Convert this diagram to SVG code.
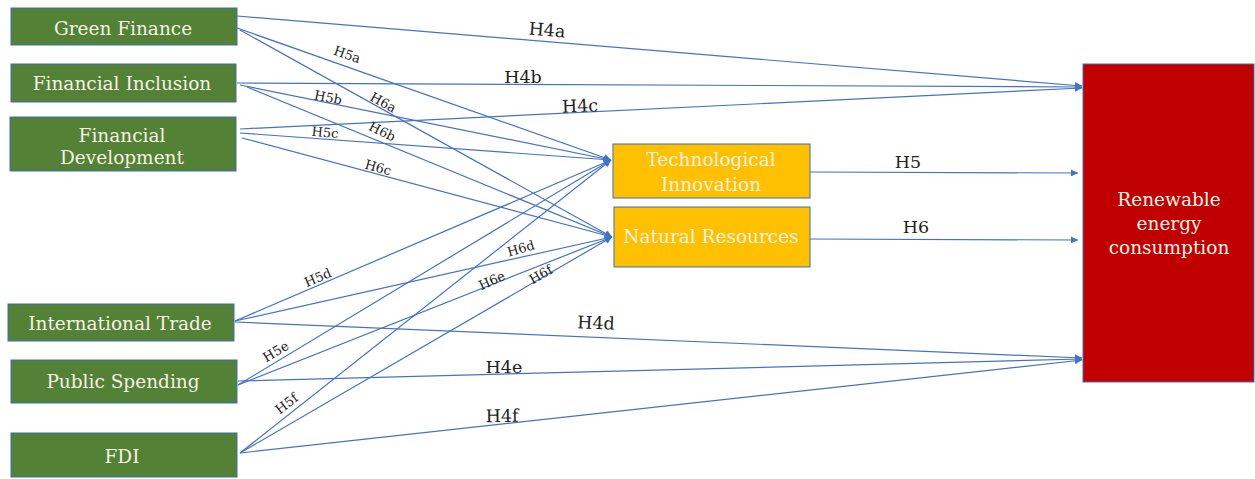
<svg xmlns="http://www.w3.org/2000/svg" width="1255" height="479" viewBox="0 0 1255 479">
<style>
.g{fill:#538135;stroke:#3f6fb0;stroke-width:1}
.o{fill:#FFC000;stroke:#3f6fb0;stroke-width:1}
.r{fill:#C00000;stroke:#3f6fb0;stroke-width:1}
.t{font-family:"DejaVu Serif","Liberation Serif",serif;font-size:18.5px;fill:#f6f1e4;text-anchor:middle}
.c{fill:none;stroke:#4472c4;stroke-width:1.2;marker-end:url(#ah)}
.l{font-family:"DejaVu Serif","Liberation Serif",serif;font-size:13px;fill:#222;text-anchor:middle}
.L{font-family:"DejaVu Serif","Liberation Serif",serif;font-size:17.5px;fill:#222;text-anchor:middle}
</style>
<defs>
<marker id="ah" viewBox="0 0 10 10" refX="10" refY="5" markerWidth="9" markerHeight="7" markerUnits="userSpaceOnUse" orient="auto">
<path d="M0,0 L10,5 L0,10 z" fill="#4472c4"/>
</marker>
</defs>
<rect width="1255" height="479" fill="#ffffff"/>
<g id="connectors">
<path class="c" d="M237,16 L1082,86"/>
<path class="c" d="M237,83 L1082,87"/>
<path class="c" d="M240,129 L1082,88"/>
<path class="c" d="M237,28 L611,160"/>
<path class="c" d="M240,30 L612,237"/>
<path class="c" d="M240,85 L611,160"/>
<path class="c" d="M247,87 L612,237"/>
<path class="c" d="M240,133 L611,160"/>
<path class="c" d="M242,138 L612,237"/>
<path class="c" d="M235,321 L611,160"/>
<path class="c" d="M235,321 L612,237"/>
<path class="c" d="M235,322 L1082,358"/>
<path class="c" d="M238,385 L611,160"/>
<path class="c" d="M238,385 L612,237"/>
<path class="c" d="M238,381 L1082,359"/>
<path class="c" d="M240,453 L611,160"/>
<path class="c" d="M240,453 L612,237"/>
<path class="c" d="M240,453 L1082,360"/>
<path class="c" d="M810,172 L1078,173"/>
<path class="c" d="M810,239 L1078,240"/>
</g>
<g id="labels">
<text class="L" x="547" y="36" transform="rotate(4.8 547 30)">H4a</text>
<text class="L" x="523" y="83">H4b</text>
<text class="L" x="580" y="112" transform="rotate(-2.5 580 106)">H4c</text>
<text class="L" x="596" y="329" transform="rotate(2.4 596 323)">H4d</text>
<text class="L" x="504" y="373">H4e</text>
<text class="L" x="502" y="422" transform="rotate(-1 502 416)">H4f</text>
<text class="L" x="908" y="168">H5</text>
<text class="L" x="916" y="233">H6</text>
<text class="l" x="347" y="59" transform="rotate(19.4 347 55)">H5a</text>
<text class="l" x="383" y="107" transform="rotate(29 383 103)">H6a</text>
<text class="l" x="328" y="102" transform="rotate(11.4 328 98)">H5b</text>
<text class="l" x="382" y="136" transform="rotate(26 382 132)">H6b</text>
<text class="l" x="325" y="137" transform="rotate(5 325 133)">H5c</text>
<text class="l" x="378" y="172" transform="rotate(16 378 168)">H6c</text>
<text class="l" x="318" y="282" transform="rotate(-23 318 278)">H5d</text>
<text class="l" x="521" y="253" transform="rotate(-16 521 249)">H6d</text>
<text class="l" x="492" y="285" transform="rotate(-24 492 281)">H6e</text>
<text class="l" x="541" y="279" transform="rotate(-30 541 275)">H6f</text>
<text class="l" x="276" y="356" transform="rotate(-31 276 352)">H5e</text>
<text class="l" x="287" y="408" transform="rotate(-38 287 404)">H5f</text>
</g>
<g id="n-green-finance">
<rect class="g" x="11" y="8" width="226" height="37"/>
<text class="t" x="123" y="35">Green Finance</text>
</g>
<g id="n-financial-inclusion">
<rect class="g" x="11" y="64" width="225" height="38"/>
<text class="t" x="122" y="90">Financial Inclusion</text>
</g>
<g id="n-financial-development">
<rect class="g" x="10" y="117" width="226" height="54"/>
<text class="t" x="122" y="142">Financial</text>
<text class="t" x="122" y="164">Development</text>
</g>
<g id="n-international-trade">
<rect class="g" x="8" y="304" width="226" height="37"/>
<text class="t" x="120" y="330">International Trade</text>
</g>
<g id="n-public-spending">
<rect class="g" x="11" y="360" width="226" height="43"/>
<text class="t" x="123" y="388">Public Spending</text>
</g>
<g id="n-fdi">
<rect class="g" x="11" y="433" width="226" height="44"/>
<text class="t" x="122" y="463">FDI</text>
</g>
<g id="n-technological-innovation">
<rect class="o" x="613" y="144" width="197" height="54"/>
<text class="t" x="711" y="166">Technological</text>
<text class="t" x="711" y="191">Innovation</text>
</g>
<g id="n-natural-resources">
<rect class="o" x="614" y="207" width="196" height="60"/>
<text class="t" x="711" y="243">Natural Resources</text>
</g>
<g id="n-renewable-energy-consumption">
<rect class="r" x="1083" y="64" width="171" height="318"/>
<text class="t" x="1169" y="206">Renewable</text>
<text class="t" x="1169" y="230">energy</text>
<text class="t" x="1169" y="254">consumption</text>
</g>
</svg>
